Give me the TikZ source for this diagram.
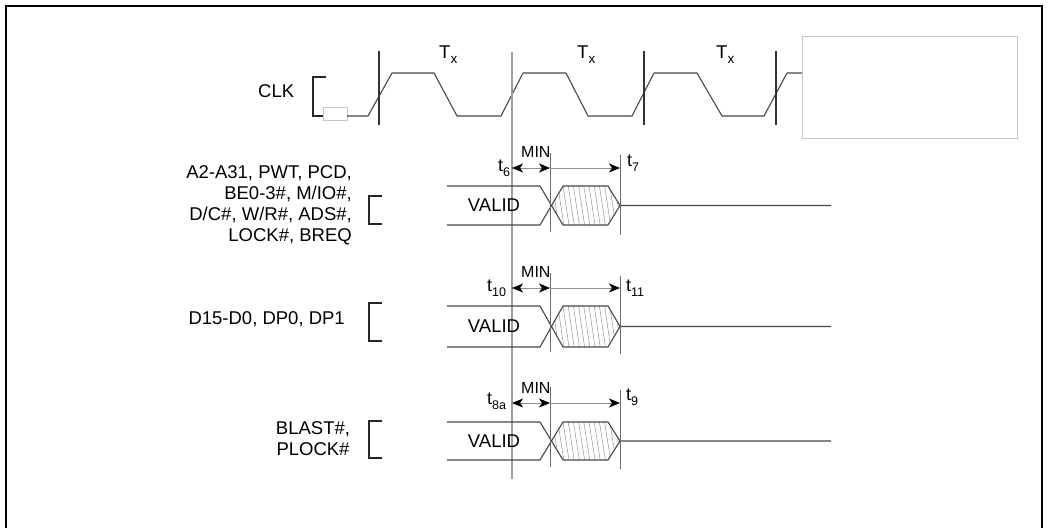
\documentclass[tikz,border=0pt]{standalone}
\usepackage{fontspec}
\setmainfont{Liberation Sans}
\usetikzlibrary{arrows.meta}
\newcommand\sbs[2][12.5]{\raisebox{-0.3em}{\fontsize{#1}{#1}\selectfont #2}}
\begin{document}
\begin{tikzpicture}[x=1pt,y=-1pt,
  lbl/.style={font=\fontsize{18.5}{21}\selectfont, inner sep=0pt},
  minlbl/.style={font=\fontsize{16}{16}\selectfont, inner sep=0pt, anchor=base west},
  tlbl/.style={font=\fontsize{18}{18}\selectfont, inner sep=0pt, anchor=base west},
  wave/.style={draw=black!72, line width=1.1pt, line join=round},
  marker/.style={draw=black!80, line width=1.2pt},
  guide/.style={draw=black!38, line width=1.1pt},
  tline/.style={draw=black!58, line width=1pt},
  dim/.style={draw=black!45, line width=0.8pt},
  hatch/.style={draw=black!45, line width=0.45pt},
  ghost/.style={draw=black!22, line width=0.9pt},
  brack/.style={draw=black!85, line width=1.2pt}
]
\useasboundingbox (0,0) rectangle (1048,528);
% frame
\draw[line width=2pt] (6,528) -- (6,6) -- (1042,6) -- (1042,528);

% ---------- CLK ----------
\node[lbl, anchor=base west] (clk) at (258,97) {CLK};
\draw[brack] (326,77) -- (313,77) -- (313,116) -- (323,116);
\draw[ghost] (323,107) rectangle (347,120);
\draw[wave] (347,116) -- (368,116) -- (392,73) -- (434,73) -- (457,116) -- (501,116)
  -- (523,73) -- (566,73) -- (588,116) -- (632,116) -- (654,73) -- (697,73)
  -- (722,116) -- (764,116) -- (787,73) -- (802,73);
\draw[ghost] (802,36) rectangle (1017,138);
\draw[marker] (379,51) -- (379,125);
\draw[marker] (644,51) -- (644,125);
\draw[marker] (776,51) -- (776,125);
\draw[guide] (512,52) -- (512,479);
\node[lbl, anchor=base west] (tx1) at (439,58) {T\sbs[13.5]{x}};
\node[lbl, anchor=base west] (tx2) at (577,58) {T\sbs[13.5]{x}};
\node[lbl, anchor=base west] (tx3) at (716,58) {T\sbs[13.5]{x}};

% ---------- signal rows ----------
\foreach \ya/\yb/\yc/\ma/\mb/\na/\nb/\mn in
  {186/225/168/153/232/155/235/157,
   306/347/288/273/352/276/354/277,
   422/460/403/387/467/390/469/393}{
  \pgfmathsetmacro\yM{(\ya+\yb)/2}
  \begin{scope}
    \clip (551.5,\yM) -- (563,\ya) -- (608,\ya) -- (620,\yM) -- (608,\yb) -- (563,\yb) -- cycle;
    \foreach \hx in {537,542.2,...,626} \draw[hatch] (\hx,\ya) -- (\hx+6,\yb);
  \end{scope}
  \draw[wave] (447,\ya) -- (540,\ya) -- (563,\yb) -- (608,\yb) -- (620,\yM) -- (831,\yM);
  \draw[wave] (447,\yb) -- (540,\yb) -- (563,\ya) -- (608,\ya) -- (620,\yM);
  \draw[tline] (550,\ma) -- (550,\mb);
  \draw[tline] (620,\na) -- (620,\nb);
  \draw[dim, {Stealth[black,length=11pt,width=9pt,inset=3pt]}-{Stealth[black,length=11pt,width=9pt,inset=3pt]}] (512,\yc) -- (550,\yc);
  \draw[dim, -{Stealth[black,length=11pt,width=9pt,inset=3pt]}] (550,\yc) -- (620,\yc);
  \node[minlbl] at (521,\mn) {MIN};
}

% row 1
\node[lbl, align=right, anchor=north east] (sig1) at (352,165)
  {A2-A31, PWT, PCD,\\BE0-3\#, M/IO\#,\\D/C\#, W/R\#, ADS\#,\\LOCK\#, BREQ};
\draw[brack] (382,196) -- (369,196) -- (369,224) -- (382,224);
\node[lbl] (v1) at (494,205.5) {VALID};
\node[tlbl] (t6) at (498,171) {t\sbs{6}};
\node[tlbl] (t7) at (627,166) {t\sbs{7}};

% row 2
\node[lbl, anchor=base east] (sig2) at (345,324) {D15-D0, DP0, DP1};
\draw[brack] (382,303) -- (369,303) -- (369,341) -- (382,341);
\node[lbl] (v2) at (494,326.5) {VALID};
\node[tlbl] (t10) at (487,291) {t\sbs{10}};
\node[tlbl] (t11) at (626,291) {t\sbs{11}};

% row 3
\node[lbl, align=center, anchor=north] (sig3) at (313,421.5) {BLAST\#,\\PLOCK\#};
\draw[brack] (382,421) -- (369,421) -- (369,458) -- (382,458);
\node[lbl] (v3) at (494,441) {VALID};
\node[tlbl] (t8a) at (487,404) {t\sbs{8a}};
\node[tlbl] (t9) at (626,400) {t\sbs{9}};
\end{tikzpicture}
\end{document}
